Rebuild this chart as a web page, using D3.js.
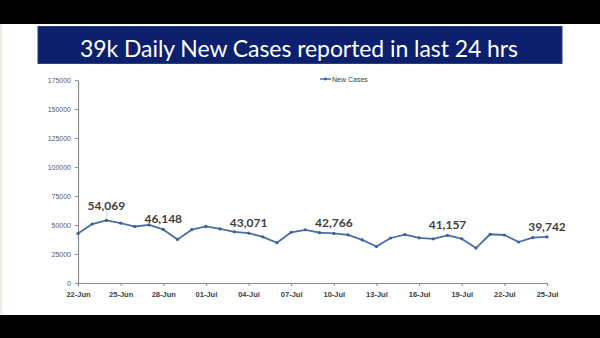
<!DOCTYPE html>
<html><head><meta charset="utf-8">
<script src="https://cdn.jsdelivr.net/npm/d3@7"></script>
<style>
html,body{margin:0;padding:0;background:#000;}
svg{display:block;}
</style></head><body>
<svg id="c" width="600" height="338"></svg>
<script>
const titleText = "39k Daily New Cases reported in last 24 hrs";
const seriesName = "New Cases";
const dates = ["2021-06-22","2021-06-23","2021-06-24","2021-06-25","2021-06-26","2021-06-27","2021-06-28","2021-06-29","2021-06-30",
"2021-07-01","2021-07-02","2021-07-03","2021-07-04","2021-07-05","2021-07-06","2021-07-07","2021-07-08","2021-07-09","2021-07-10",
"2021-07-11","2021-07-12","2021-07-13","2021-07-14","2021-07-15","2021-07-16","2021-07-17","2021-07-18","2021-07-19","2021-07-20",
"2021-07-21","2021-07-22","2021-07-23","2021-07-24","2021-07-25"];
const newCases = [42640,50848,54069,51667,48698,50040,46148,37566,45951,
48786,46617,44111,43071,39796,34703,43733,45892,43393,42766,
41506,37154,31443,38792,41806,38949,38079,41157,38164,30093,
42015,41383,35342,39097,39742];
const labelledDates = ["2021-06-24","2021-06-28","2021-07-04","2021-07-10","2021-07-18","2021-07-25"];
const yTicks = [0,25000,50000,75000,100000,125000,150000,175000];

const parse = d3.timeParse("%Y-%m-%d");
const data = dates.map((d,i)=>({date:parse(d), value:newCases[i], key:d}));

const svg = d3.select("#c");
// slide background
svg.append("rect").attr("x",0).attr("y",24).attr("width",600).attr("height",291).attr("fill","#ffffff");
svg.append("rect").attr("x",0).attr("y",24).attr("width",2).attr("height",291).attr("fill","#f3ebe0");

// title banner
svg.append("rect").attr("x",38).attr("y",26.5).attr("width",524).attr("height",37)
  .attr("fill","#0c206e").attr("stroke","#2a3c82").attr("stroke-width",1);
svg.append("text").attr("x",299).attr("y",56.5).attr("text-anchor","middle")
  .attr("fill","#ffffff").attr("font-family","Lato, 'Open Sans', sans-serif").attr("font-size",23)
  .attr("textLength",438).attr("lengthAdjust","spacing")
  .text(titleText);

const x = d3.scaleTime().domain([parse(dates[0]), parse(dates[dates.length-1])]).range([78,547]);
const y = d3.scaleLinear().domain([0,175000]).range([283,80]);

// y axis
const yAxis = svg.append("g").attr("transform","translate(78,0)")
  .call(d3.axisLeft(y).tickValues(yTicks).tickFormat(d3.format("d")).tickSize(3).tickSizeOuter(0));
yAxis.select(".domain").attr("stroke","#8c8c8c").attr("stroke-width",1.2);
yAxis.selectAll(".tick line").attr("stroke","#8c8c8c");
yAxis.selectAll(".tick text").attr("fill","#595959").attr("font-family","'Liberation Sans', Arial, sans-serif")
  .attr("font-size",7).attr("x",-7);

// x axis
const xAxis = svg.append("g").attr("transform","translate(0,283)")
  .call(d3.axisBottom(x).ticks(d3.timeDay.every(3)).tickFormat(d3.timeFormat("%d-%b")).tickSize(3).tickSizeOuter(3));
xAxis.select(".domain").attr("stroke","#8c8c8c").attr("stroke-width",1.2);
xAxis.selectAll(".tick line").attr("stroke","#8c8c8c");
xAxis.selectAll(".tick text").attr("fill","#404040").attr("font-family","'Liberation Sans', Arial, sans-serif")
  .attr("font-weight","bold").attr("font-size",7.5).attr("dy","1.1em");

// line
const line = d3.line().x(d=>x(d.date)).y(d=>y(d.value));
svg.append("path").datum(data).attr("d",line).attr("fill","none")
  .attr("stroke","#4a6ea9").attr("stroke-width",1.8).attr("stroke-linejoin","round");
svg.selectAll("circle.pt").data(data).enter().append("circle").attr("class","pt")
  .attr("cx",d=>x(d.date)).attr("cy",d=>y(d.value)).attr("r",1.6).attr("fill","#3d5f99");

// data labels
const lab = data.filter(d=>labelledDates.includes(d.key));
svg.selectAll("line.lead").data(lab.filter(d=>d.key==="2021-06-24")).enter().append("line")
  .attr("x1",d=>x(d.date)).attr("x2",d=>x(d.date)).attr("y1",d=>y(d.value)-9).attr("y2",d=>y(d.value)-2)
  .attr("stroke","#c8c8c8").attr("stroke-width",0.8);
svg.selectAll("text.lab").data(lab).enter().append("text").attr("class","lab")
  .attr("x",d=>x(d.date)).attr("y",d=>y(d.value)-(d.key==="2021-06-24"?10:6))
  .attr("text-anchor","middle").attr("fill","#404040").attr("font-weight","bold")
  .attr("font-family","Lato, 'Open Sans', sans-serif").attr("font-size",12)
  .text(d=>d3.format(",")(d.value));

// legend
svg.append("line").attr("x1",320).attr("x2",331).attr("y1",79).attr("y2",79).attr("stroke","#4a6ea9").attr("stroke-width",1.5);
svg.append("circle").attr("cx",325.5).attr("cy",79).attr("r",1.4).attr("fill","#3d5f99");
svg.append("text").attr("x",332).attr("y",81.5).attr("fill","#404040")
  .attr("font-family","'Liberation Sans', Arial, sans-serif").attr("font-size",7).text(seriesName);
</script>
</body></html>
